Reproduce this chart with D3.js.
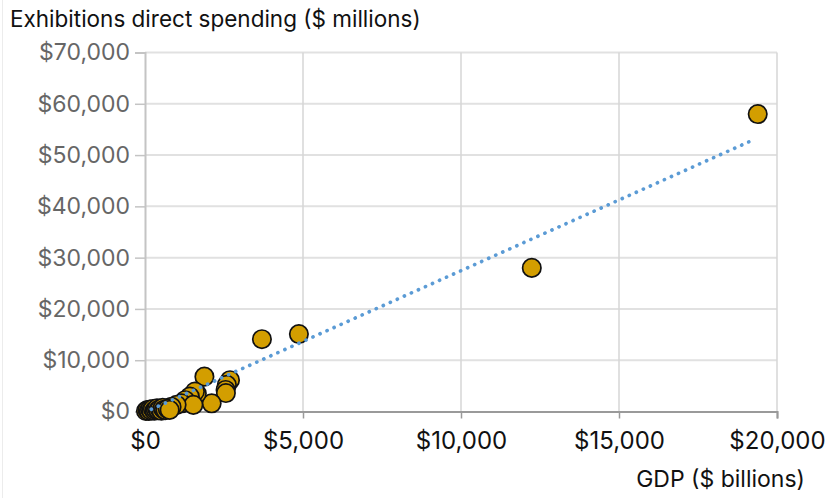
<!DOCTYPE html>
<html>
<head>
<meta charset="utf-8">
<script src="https://cdn.jsdelivr.net/npm/d3@7"></script>
<style>
  body { margin: 0; background: #fff; }
  svg text { font-family: Inter, "Liberation Sans", Arial, sans-serif; }
</style>
</head>
<body>
<div class="chart"></div>
<script>
// GDP ($ billions) for each country
const gdp = [19390, 12240, 4870, 3700, 1880, 2690, 2590, 2550, 2560, 2110,
  1640, 1580, 1420, 1270, 1160, 1530, 1000, 840, 690,
  30, 80, 120, 160, 200, 250, 300, 340, 380, 420, 470, 520, 560, 600, 650, 720, 780];
// Exhibitions direct spending ($ millions)
const spending = [58000, 28000, 15100, 14100, 6800, 6100, 5200, 4200, 3600, 1600,
  3500, 3900, 2900, 2200, 1600, 1300, 1300, 900, 600,
  100, 300, 100, 400, 200, 500, 150, 350, 600, 250, 450, 150, 700, 350, 250, 500, 300];
// trend line end points
const trendGdp = [200, 19300];
const trendSpending = [430, 53100];

const xTicks = [0, 5000, 10000, 15000, 20000];
const yTicks = [0, 10000, 20000, 30000, 40000, 50000, 60000, 70000];

const width = 838;
const height = 498;
const margin = {top: 52.5, right: 61, bottom: 86.5, left: 145};

const svg = d3.select('.chart')
  .append('svg')
  .attr('width', width)
  .attr('height', height);

// faint page border on the left
svg.append('line')
  .attr('x1', 2.5).attr('x2', 2.5)
  .attr('y1', 0).attr('y2', height)
  .attr('stroke', '#ececec');

const x = d3.scaleLinear()
  .domain([0, 20000])
  .range([margin.left, width - margin.right]);

const y = d3.scaleLinear()
  .domain([0, 70000])
  .range([height - margin.bottom, margin.top]);

const money = d3.format('$,');

// gridlines
svg.append('g')
  .selectAll('line')
  .data(yTicks.slice(1))
  .enter()
  .append('line')
  .attr('x1', x(0)).attr('x2', x(20000))
  .attr('y1', d => y(d)).attr('y2', d => y(d))
  .attr('stroke', '#e1e1e1')
  .attr('stroke-width', 2);

svg.append('g')
  .selectAll('line')
  .data(xTicks.slice(1))
  .enter()
  .append('line')
  .attr('x1', d => x(d)).attr('x2', d => x(d))
  .attr('y1', y(0)).attr('y2', y(70000))
  .attr('stroke', '#d6d6d6')
  .attr('stroke-width', 1.5);

// y axis
const yAxis = svg.append('g')
  .attr('transform', `translate(${x(0)},0)`)
  .call(d3.axisLeft(y).tickValues(yTicks).tickFormat(money).tickSize(10).tickPadding(5));
yAxis.select('.domain').attr('stroke', '#c4c4c4').attr('stroke-width', 2);
yAxis.selectAll('.tick line').attr('stroke', '#c4c4c4').attr('stroke-width', 1.5);
yAxis.selectAll('.tick text')
  .attr('font-size', '23px')
  .attr('fill', '#666');

// x axis
const xAxis = svg.append('g')
  .attr('transform', `translate(0,${y(0)})`)
  .call(d3.axisBottom(x).tickValues(xTicks).tickFormat(money).tickSize(7).tickPadding(13));
xAxis.select('.domain').attr('stroke', '#9a9a9a').attr('stroke-width', 2);
xAxis.selectAll('.tick line').attr('stroke', '#9a9a9a').attr('stroke-width', 1.5);
xAxis.selectAll('.tick text')
  .attr('font-size', '24px')
  .attr('fill', '#111');

// axis titles
svg.append('text')
  .attr('x', 10)
  .attr('y', 27)
  .attr('font-size', '22.5px')
  .attr('fill', '#111')
  .text('Exhibitions direct spending ($ millions)');

svg.append('text')
  .attr('x', 805)
  .attr('y', 487)
  .attr('text-anchor', 'end')
  .attr('font-size', '23px')
  .attr('fill', '#111')
  .text('GDP ($ billions)');

// points
const points = gdp.map((d, i) => ({gdp: d, spending: spending[i]}));

svg.append('g')
  .selectAll('circle')
  .data(points)
  .enter()
  .append('circle')
  .attr('cx', d => x(d.gdp))
  .attr('cy', d => y(d.spending))
  .attr('r', 9.2)
  .attr('fill', '#d39e00')
  .attr('stroke', '#111')
  .attr('stroke-width', 1.7);

// dotted trend line
const trend = trendGdp.map((d, i) => [d, trendSpending[i]]);
svg.append('path')
  .datum(trend)
  .attr('d', d3.line().x(d => x(d[0])).y(d => y(d[1])))
  .attr('fill', 'none')
  .attr('stroke', '#5b9bd5')
  .attr('stroke-width', 3.7)
  .attr('stroke-linecap', 'round')
  .attr('stroke-dasharray', '0.1 7.6');
</script>
</body>
</html>
